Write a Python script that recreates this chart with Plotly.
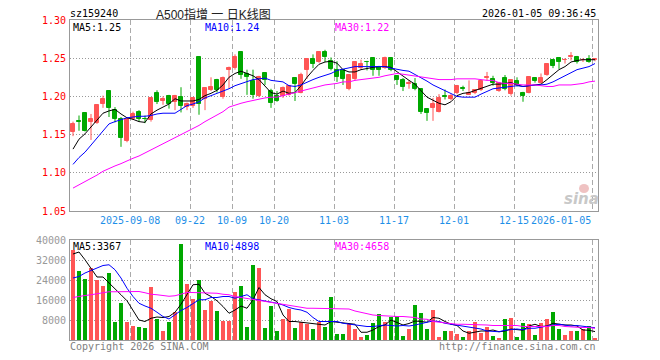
import plotly.graph_objects as go

dates = ["2025-08-25","2025-08-26","2025-08-27","2025-08-28","2025-08-29",
 "2025-09-01","2025-09-02","2025-09-03","2025-09-04","2025-09-05","2025-09-08","2025-09-09","2025-09-10","2025-09-11","2025-09-12",
 "2025-09-15","2025-09-16","2025-09-17","2025-09-18","2025-09-19","2025-09-22","2025-09-23","2025-09-24","2025-09-25","2025-09-26",
 "2025-09-29","2025-09-30","2025-10-09","2025-10-10","2025-10-13","2025-10-14","2025-10-15","2025-10-16","2025-10-17","2025-10-20",
 "2025-10-21","2025-10-22","2025-10-23","2025-10-24","2025-10-27","2025-10-28","2025-10-29","2025-10-30","2025-10-31","2025-11-03",
 "2025-11-04","2025-11-05","2025-11-06","2025-11-07","2025-11-10","2025-11-11","2025-11-12","2025-11-13","2025-11-14","2025-11-17",
 "2025-11-18","2025-11-19","2025-11-20","2025-11-21","2025-11-24","2025-11-25","2025-11-26","2025-11-27","2025-11-28","2025-12-01",
 "2025-12-02","2025-12-03","2025-12-04","2025-12-05","2025-12-08","2025-12-09","2025-12-10","2025-12-11","2025-12-12","2025-12-15",
 "2025-12-16","2025-12-17","2025-12-18","2025-12-19","2025-12-22","2025-12-23","2025-12-24","2025-12-25","2025-12-26","2025-12-29",
 "2025-12-30","2025-12-31","2026-01-05"]

open_ = [1.154,1.168,1.178,1.166,1.165,1.190,1.207,1.182,1.171,1.141,1.171,1.180,1.171,1.169,1.204,1.194,1.200,1.193,1.199,1.186,
 1.188,1.251,1.196,1.208,1.221,1.199,1.235,1.237,1.258,1.229,1.220,1.201,1.230,1.207,1.201,1.200,1.202,1.224,1.205,1.235,
 1.249,1.245,1.258,1.246,1.235,1.234,1.210,1.223,1.237,1.2455,1.250,1.239,1.237,1.250,1.227,1.222,1.216,1.216,1.210,1.183,
 1.185,1.180,1.200,1.196,1.205,1.211,1.202,1.204,1.208,1.224,1.223,1.207,1.224,1.203,1.220,1.205,1.205,1.224,1.218,1.228,
 1.248,1.250,1.247,1.252,1.251,1.247,1.249,1.248]
high = [1.167,1.175,1.179,1.177,1.190,1.201,1.208,1.186,1.173,1.173,1.180,1.182,1.175,1.199,1.208,1.200,1.202,1.202,1.212,1.192,
 1.198,1.252,1.212,1.225,1.223,1.226,1.239,1.255,1.259,1.235,1.235,1.227,1.231,1.210,1.207,1.213,1.213,1.225,1.231,1.250,
 1.255,1.259,1.261,1.251,1.246,1.235,1.229,1.246,1.248,1.2465,1.251,1.240,1.252,1.251,1.228,1.224,1.221,1.224,1.211,1.184,
 1.198,1.203,1.209,1.203,1.215,1.214,1.221,1.209,1.221,1.232,1.227,1.219,1.228,1.222,1.225,1.206,1.226,1.225,1.230,1.243,
 1.249,1.251,1.250,1.258,1.253,1.250,1.254,1.250]
low = [1.148,1.155,1.154,1.143,1.164,1.185,1.173,1.166,1.134,1.140,1.169,1.167,1.165,1.167,1.190,1.189,1.184,1.182,1.179,1.182,
 1.185,1.176,1.182,1.207,1.205,1.197,1.210,1.235,1.223,1.202,1.197,1.199,1.215,1.185,1.193,1.198,1.201,1.194,1.204,1.223,
 1.237,1.244,1.245,1.234,1.219,1.215,1.208,1.221,1.235,1.234,1.227,1.227,1.236,1.233,1.215,1.207,1.210,1.208,1.177,1.168,
 1.168,1.179,1.196,1.195,1.203,1.207,1.202,1.203,1.207,1.221,1.214,1.206,1.208,1.201,1.213,1.193,1.204,1.218,1.217,1.227,
 1.237,1.236,1.243,1.247,1.243,1.245,1.244,1.246]
close = [1.164,1.167,1.155,1.171,1.189,1.196,1.185,1.171,1.145,1.171,1.177,1.171,1.170,1.198,1.193,1.196,1.190,1.201,1.188,1.190,
 1.198,1.190,1.211,1.212,1.208,1.224,1.237,1.252,1.228,1.226,1.202,1.226,1.221,1.191,1.194,1.211,1.213,1.216,1.228,1.249,
 1.242,1.258,1.252,1.236,1.226,1.223,1.228,1.245,1.242,1.2445,1.234,1.235,1.250,1.234,1.221,1.212,1.217,1.210,1.179,1.178,
 1.190,1.198,1.199,1.201,1.213,1.210,1.205,1.208,1.220,1.225,1.218,1.218,1.210,1.221,1.215,1.200,1.225,1.220,1.224,1.242,
 1.240,1.245,1.248,1.253,1.245,1.248,1.245,1.249]

ma5 = [1.131,1.144,1.151,1.160,1.168,1.178,1.181,1.183,1.177,1.172,1.170,1.167,1.166,1.177,1.182,1.186,1.190,1.197,1.194,1.194,
 1.194,1.196,1.201,1.204,1.208,1.215,1.225,1.230,1.233,1.230,1.227,1.222,1.213,1.205,1.203,1.207,1.204,1.205,1.214,1.225,
 1.234,1.242,1.245,1.246,1.2435,1.235,1.232,1.232,1.235,1.237,1.238,1.239,1.239,1.238,1.232,1.227,1.221,1.216,1.207,1.199,
 1.195,1.191,1.189,1.193,1.201,1.204,1.205,1.208,1.211,1.214,1.216,1.216,1.217,1.218,1.215,1.213,1.214,1.215,1.216,1.222,
 1.229,1.235,1.239,1.245,1.247,1.248,1.248,1.248]
ma10 = [1.111,1.120,1.127,1.136,1.146,1.155,1.164,1.167,1.170,1.172,1.173,1.174,1.174,1.175,1.177,1.178,1.178,1.178,1.183,1.188,
 1.190,1.193,1.198,1.201,1.203,1.207,1.210,1.214,1.217,1.220,1.222,1.223,1.224,1.221,1.220,1.219,1.214,1.213,1.215,1.219,
 1.222,1.225,1.227,1.230,1.234,1.236,1.238,1.239,1.239,1.239,1.239,1.239,1.239,1.237,1.235,1.234,1.233,1.229,1.224,1.220,
 1.215,1.211,1.207,1.203,1.200,1.199,1.199,1.199,1.203,1.207,1.210,1.211,1.212,1.213,1.214,1.213,1.214,1.215,1.215,1.216,
 1.219,1.223,1.227,1.232,1.235,1.237,1.239,1.243]
ma30 = [1.080,1.084,1.088,1.093,1.097,1.102,1.106,1.109,1.112,1.116,1.119,1.122,1.126,1.130,1.133,1.138,1.142,1.146,1.150,1.154,
 1.158,1.162,1.167,1.171,1.176,1.180,1.186,1.189,1.191,1.193,1.195,1.197,1.198,1.199,1.199,1.201,1.203,1.205,1.208,1.210,
 1.212,1.214,1.215,1.216,1.217,1.219,1.219,1.221,1.222,1.223,1.224,1.225,1.227,1.229,1.230,1.229,1.228,1.227,1.226,1.224,
 1.223,1.222,1.222,1.222,1.223,1.223,1.223,1.223,1.222,1.221,1.221,1.218,1.217,1.217,1.216,1.215,1.215,1.215,1.214,1.213,
 1.213,1.215,1.215,1.215,1.216,1.217,1.219,1.220]

volume = [36100,27700,24500,29000,24100,21700,26900,7400,15000,7400,5800,5200,4800,21300,8400,3600,7200,11100,38500,22500,
 16500,24100,12000,15700,11600,7600,7600,19400,21700,5200,30100,29000,5000,13800,3600,8400,12400,5000,7100,6300,
 4400,7100,5200,17400,2500,2500,6600,4400,1300,2000,6800,10400,7400,9400,9800,1700,4500,14000,11000,4500,
 12000,1300,3600,3600,2400,1300,3600,7400,2900,5400,1700,500,8400,9000,1300,7000,6400,2100,7000,8400,
 11200,4500,2100,3600,3600,4300,5600,500]
vma5 = [34400,35200,32100,28800,25200,25200,22700,20500,18100,15700,12000,8000,7400,8700,9200,9000,9400,11100,14300,18100,
 22100,22300,18700,17400,15700,13400,10700,12000,13600,12700,16100,21000,18100,16500,15400,10000,7400,7400,7100,6700,
 6300,6300,6000,7400,7100,6700,6300,6300,3100,3100,4000,5400,6000,8000,7000,6000,6600,7600,7400,7100,
 9000,8700,7400,6300,5800,3600,2700,3300,3600,3600,4000,3300,3600,4400,4100,3900,5600,6300,5400,5600,
 6700,6300,6000,6000,5600,4000,3900,3367]
vma10 = [24800,25400,26800,27700,28800,29800,30100,28100,24800,20700,17400,14700,13600,12700,11100,9400,8400,10000,11800,13000,
 14700,16100,16100,17000,17000,17400,17400,16700,17400,18100,16500,16100,15700,15100,14700,14000,13000,12400,12000,11100,
 9000,7400,7400,7400,7400,6700,6400,6000,5600,5400,5400,5800,6000,5800,5600,5800,5600,6000,6700,7100,
 7600,7400,6700,6300,6000,5800,5400,4700,4400,3600,3300,3300,3900,4000,4400,4100,4700,4700,5200,5400,
 6000,6300,6000,5600,5800,5400,5100,4898]
vma30 = [17000,17500,17800,18100,18500,19000,19300,19300,19400,19500,19500,19400,18900,18300,18100,17700,17500,17700,18500,19000,
 19000,19000,19000,19000,18700,18300,18100,17400,17000,16500,16100,15700,15400,15100,14700,14300,13800,13400,13000,12700,
 12700,12700,12700,12700,12700,12700,12400,11600,11100,10400,10000,9800,9600,9400,9400,9400,9200,9000,8400,8300,
 7400,7100,6700,6400,6300,6300,6300,6000,6000,6000,5800,5800,5800,5800,5800,5400,5400,5200,5400,5400,
 5800,5800,5400,5100,5100,5000,5000,4658]

tick_dates = ["2025-09-08","2025-09-22","2025-10-09","2025-10-20","2025-11-03","2025-11-17","2025-12-01","2025-12-15","2026-01-05"]
tick_text = ["2025-09-08","09-22","10-09","10-20","11-03","11-17","12-01","12-15","2026-01-05"]
price_ticks = [1.05,1.10,1.15,1.20,1.25,1.30]
vol_ticks = [8000,16000,24000,32000,40000]

RED = "#ff5555"
GREEN = "#00a800"
MONO = "DejaVu Sans Mono"
n = len(dates)
xs = list(range(n))
up = [c >= o for o, c in zip(open_, close)]
colors = [RED if u else GREEN for u in up]

fig = go.Figure()

for flag, col in ((True, RED), (False, GREEN)):
    wx, wy = [], []
    for i in xs:
        if up[i] == flag:
            wx += [i, i, None]
            wy += [low[i], high[i], None]
    fig.add_trace(go.Scatter(x=wx, y=wy, mode="lines", line=dict(color=col, width=1),
                             xaxis="x", yaxis="y", hoverinfo="skip", showlegend=False))

base = [min(o, c) for o, c in zip(open_, close)]
hgt = [max(abs(c - o), 0.0004) for o, c in zip(open_, close)]
fig.add_trace(go.Bar(x=xs, y=hgt, base=base, width=0.7,
                     marker=dict(color=colors, line=dict(color=colors, width=1)),
                     xaxis="x", yaxis="y", showlegend=False, hoverinfo="skip"))

for arr, col in ((ma5, "#000000"), (ma10, "#0000ff"), (ma30, "#ff00ff")):
    fig.add_trace(go.Scatter(x=xs, y=arr, mode="lines", line=dict(color=col, width=1),
                             xaxis="x", yaxis="y", showlegend=False, hoverinfo="skip"))

fig.add_trace(go.Bar(x=xs, y=volume, width=0.82, marker=dict(color=colors, line=dict(width=0)),
                     xaxis="x2", yaxis="y2", showlegend=False, hoverinfo="skip"))
for arr, col in ((vma5, "#000000"), (vma10, "#0000ff"), (vma30, "#ff00ff")):
    fig.add_trace(go.Scatter(x=xs, y=arr, mode="lines", line=dict(color=col, width=1),
                             xaxis="x2", yaxis="y2", showlegend=False, hoverinfo="skip"))

tick_idx = [dates.index(d) - 0.5 for d in tick_dates]

# page has an 8px body margin: plot area in page pixels is x 70..598, y 20..340
OFF = 8
PX0, PX1, PY0, PY1 = 70, 598, 20, 340
W, H = 644, 344
L, T = PX0 - OFF, PY0 - OFF
R, B = W - (PX1 - OFF), H - (PY1 - OFF)
PW, PH = PX1 - PX0, PY1 - PY0

def px(x):
    return (x - PX0) / PW

def py(y):
    return (PY1 - y) / PH

xcommon = dict(range=[-0.5, n - 0.5], tickvals=tick_idx, showticklabels=False, ticks="",
               showgrid=True, gridcolor="#aaaaaa", griddash="5px,3px", gridwidth=1,
               showline=True, mirror=True, linecolor="#999999", linewidth=1, zeroline=False, fixedrange=True)
fig.update_layout(
    width=W, height=H, margin=dict(l=L, r=R, t=T, b=B, autoexpand=False),
    paper_bgcolor="white", plot_bgcolor="white", bargap=0, barmode="overlay",
    showlegend=False,
    xaxis=dict(domain=[0, 1], anchor="y", **xcommon),
    xaxis2=dict(domain=[0, 1], anchor="y2", matches="x", **xcommon),
    yaxis=dict(domain=[py(211), 1], range=[1.05, 1.30], tickvals=price_ticks,
               ticktext=[f"{v:.2f}" for v in price_ticks], ticks="", ticklabelstandoff=1,
               tickfont=dict(family=MONO, size=10, color="#ff0000"),
               showgrid=True, gridcolor="#999999", griddash="1px,2px",
               showline=True, mirror=True, linecolor="#999999", zeroline=False, fixedrange=True),
    yaxis2=dict(domain=[0, py(240)], range=[0, 40000], tickvals=vol_ticks,
                ticktext=[str(v) for v in vol_ticks], ticks="", ticklabelstandoff=1,
                tickfont=dict(family=MONO, size=10, color="#999999"),
                showgrid=True, gridcolor="#999999", griddash="1px,2px",
                showline=True, mirror=True, linecolor="#999999", zeroline=False, fixedrange=True),
)

ann = []
def text(x, y, s, color="#000000", anchor="left", size=10, family=MONO, **kw):
    ann.append(dict(xref="paper", yref="paper", x=px(x), y=py(y), text=s, showarrow=False,
                    xanchor=anchor, yanchor="middle", font=dict(family=family, size=size, color=color),
                    borderpad=0, **kw))

for ti, tt in zip(tick_idx, tick_text):
    xpix = PX0 + (ti + 0.5) * PW / n
    anchor = "right" if xpix + 30 > PX1 else "center"
    text(xpix, 220, tt, color="#1e8fe8", anchor=anchor)

text(69, 14, "sz159240")
text(213, 14.5, "A500指增 一 日K线图", color="#222222", anchor="center", size=12,
     family="Liberation Sans, Noto Sans CJK SC")
text(597, 14, "2026-01-05 09:36:45", anchor="right")
text(72, 27.5, f"MA5:{ma5[-1]:.2f}")
text(204, 27.5, f"MA10:{ma10[-1]:.2f}", color="#0000ff")
text(334, 27.5, f"MA30:{ma30[-1]:.2f}", color="#ff00ff")
text(72, 246, f"MA5:{vma5[-1]}")
text(204, 246, f"MA10:{vma10[-1]}", color="#0000ff")
text(334, 246, f"MA30:{vma30[-1]}", color="#ff00ff")
text(69, 346, "Copyright 2026 SINA.COM", color="#808080")
text(597, 346, "http://finance.sina.com.cn", color="#808080", anchor="right")
text(581, 199, "<b><i>sina</i></b>", color="#c8c8c8", anchor="center", size=15, family="DejaVu Sans")
fig.update_layout(annotations=ann)

fig.add_shape(type="circle", xref="paper", yref="paper",
              x0=px(579), x1=px(589), y0=py(193), y1=py(184),
              fillcolor="rgba(220,120,120,0.45)", line=dict(width=0), layer="above")

fig.write_html("out.html")
